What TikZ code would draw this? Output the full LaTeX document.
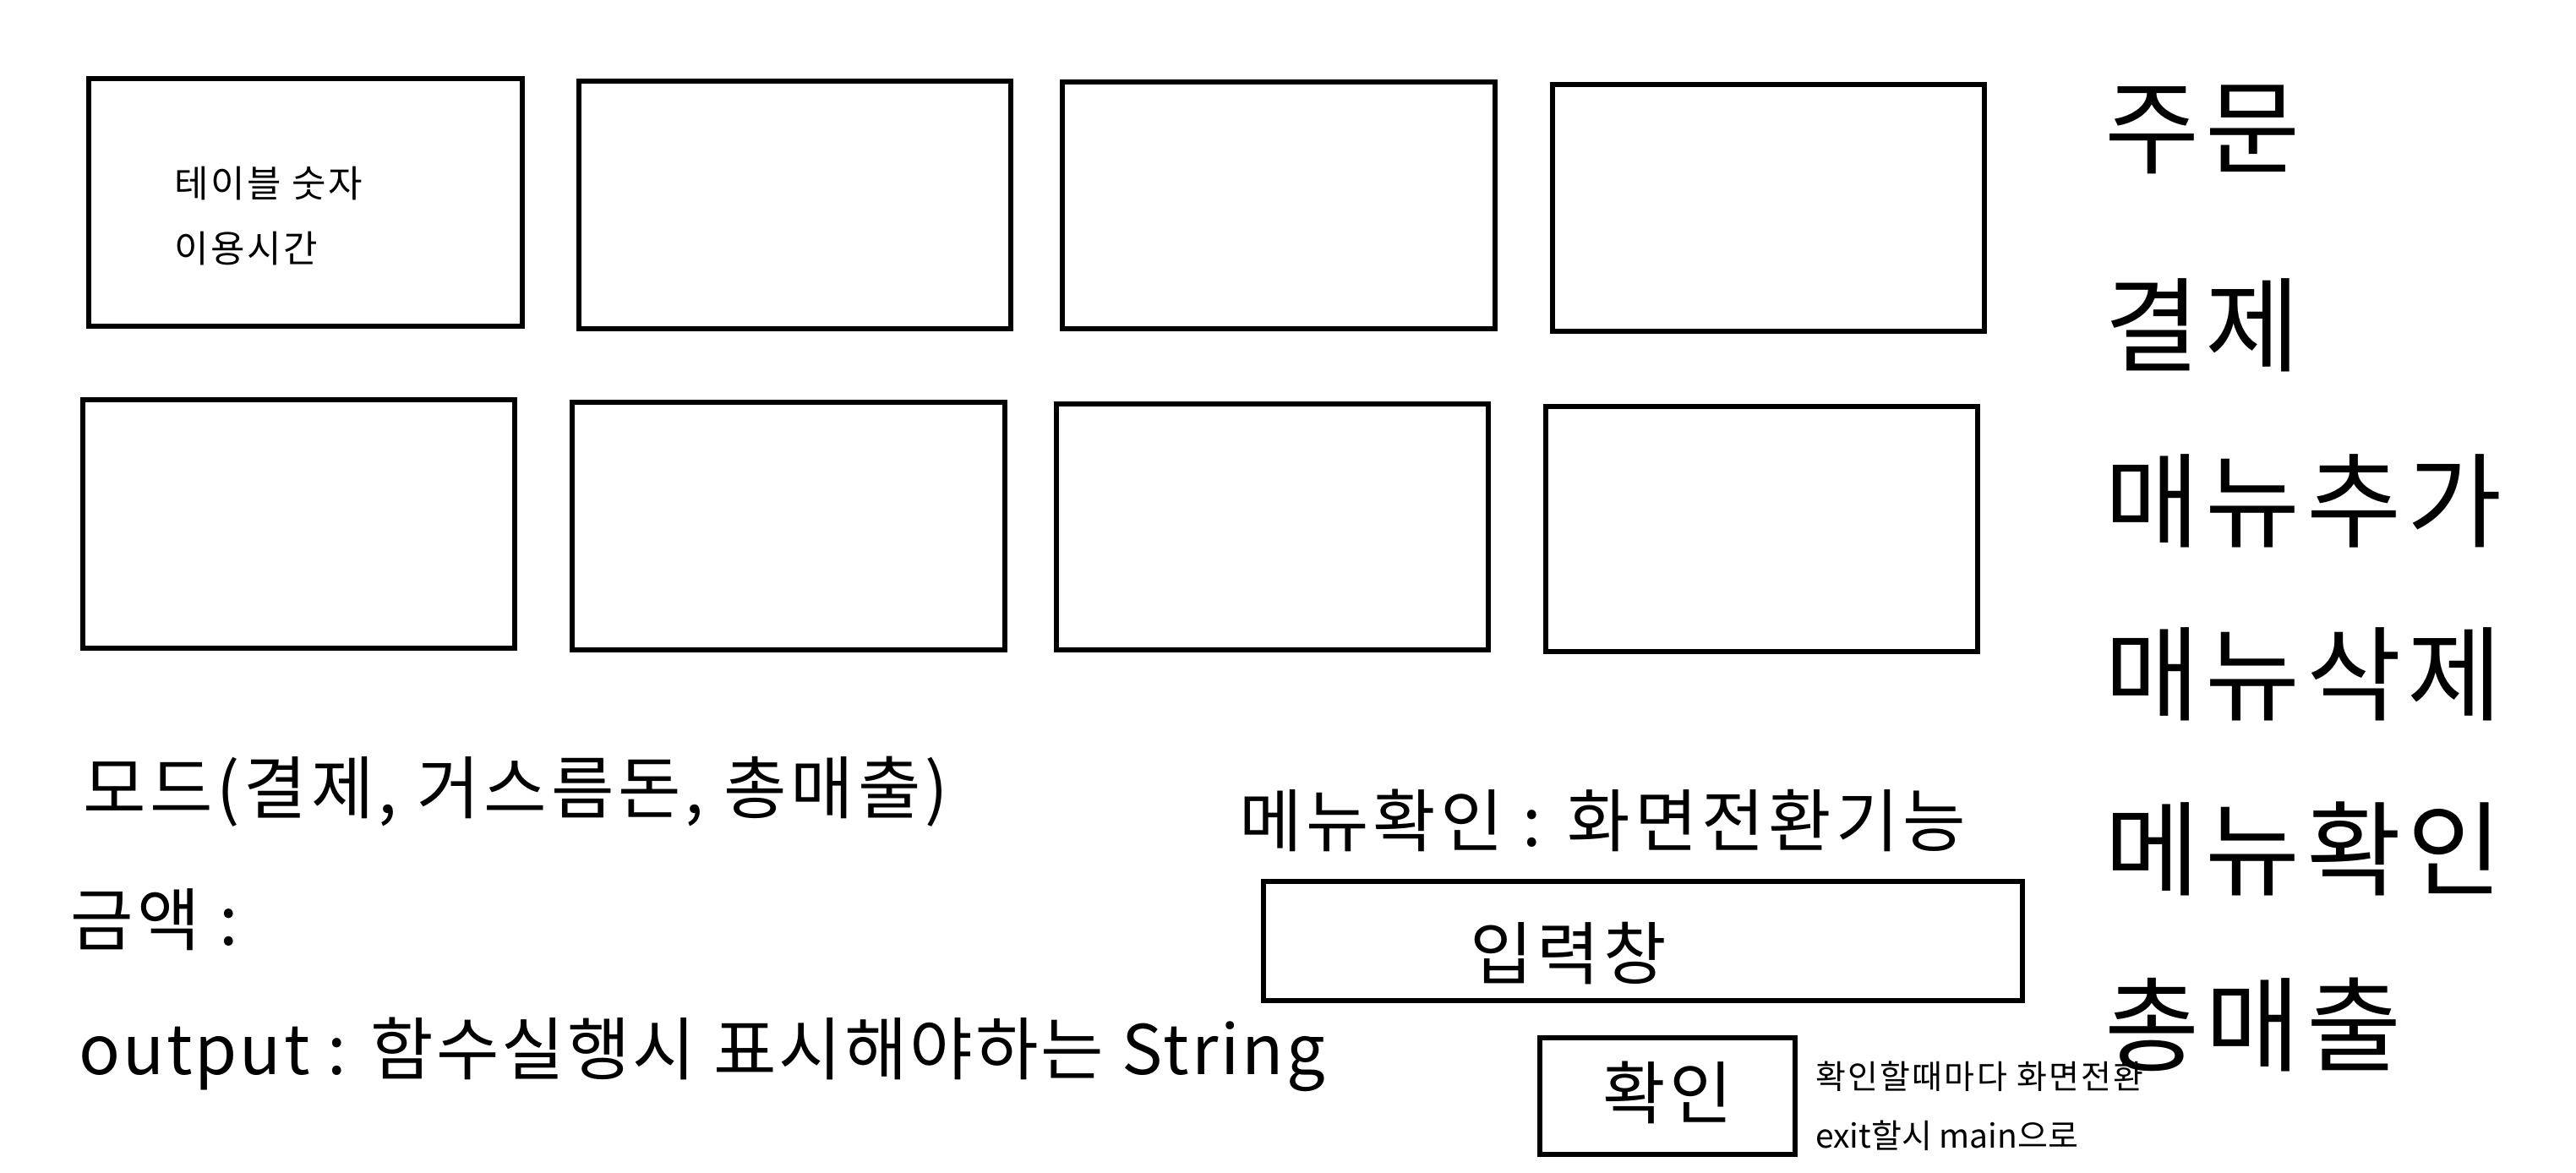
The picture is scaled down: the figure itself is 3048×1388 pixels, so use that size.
\documentclass[tikz,border=0pt]{standalone}
\usepackage{fontspec}
\setmainfont{Noto Sans CJK KR}[LetterSpace=6]
\newfontfamily\tightfont{Noto Sans CJK KR}[LetterSpace=0]
\newfontfamily\outfont{Noto Sans CJK KR}[LetterSpace=3.7]
\begin{document}
\begin{tikzpicture}[x=1pt,y=-1pt,
  tbox/.style={draw=black,line width=5.5pt,anchor=north west,inner sep=0pt,outer sep=0pt},
  txt/.style={anchor=base west,inner sep=0pt,outer sep=0pt,text=black},
  big/.style={txt,font=\fontsize{122}{130}\selectfont},
  mid/.style={txt,font=\fontsize{81}{90}\selectfont},
  sml/.style={txt,font=\fontsize{44}{50}\selectfont},
  tiny/.style={txt,font=\fontsize{39}{44}\selectfont}]
\fill[white] (0,0) rectangle (3048,1388);
\useasboundingbox (0,0) rectangle (3048,1388);
% table boxes
\node[tbox,minimum width=513pt,minimum height=293pt] (t1) at (105,93) {};
\node[tbox,minimum width=511pt,minimum height=293pt] (t2) at (685,96) {};
\node[tbox,minimum width=512pt,minimum height=292pt] (t3) at (1257,97) {};
\node[tbox,minimum width=511pt,minimum height=292pt] (t4) at (1837,100) {};
\node[tbox,minimum width=511pt,minimum height=294pt] (t5) at (98,473) {};
\node[tbox,minimum width=512pt,minimum height=293pt] (t6) at (677,476) {};
\node[tbox,minimum width=511pt,minimum height=291pt] (t7) at (1250,478) {};
\node[tbox,minimum width=511pt,minimum height=290pt] (t8) at (1829,481) {};
\node[sml] (tnum) at (206,234) {테이블 숫자};
\node[sml] (ttime) at (206,310) {이용시간};
% right menu
\node[big] (m1) at (2490,197) {주문};
\node[big] (m2) at (2490,430) {결제};
\node[big] (m3) at (2490,638) {매뉴추가};
\node[big] (m4) at (2490,843) {매뉴삭제};
\node[big] (m5) at (2490,1050) {메뉴확인};
\node[big] (m6) at (2490,1258) {총매출};
% bottom left
\node[mid] (mode) at (98,962) {모드(결제, 거스름돈, 총매출)};
\node[mid] (amt) at (83,1118) {금액 :};
\node[mid,font=\outfont\fontsize{81}{90}\selectfont] (out) at (93,1271) {output : 함수실행시 표시해야하는 String};
% bottom right
\node[mid] (conf) at (1466,1001) {메뉴확인 : 화면전환기능};
\node[tbox,minimum width=898pt,minimum height=141pt] (inp) at (1495,1043) {};
\node[mid] (inptxt) at (1739,1158) {입력창};
\node[tbox,minimum width=302pt,minimum height=138pt] (ok) at (1822,1228) {};
\node[mid] (oktxt) at (1896,1323) {확인};
\node[tiny] (n1) at (2148,1288) {확인할때마다 화면전환};
\node[tiny,font=\tightfont\fontsize{39}{44}\selectfont] (n2) at (2148,1358) {exit할시 main으로};
\end{tikzpicture}
\end{document}
